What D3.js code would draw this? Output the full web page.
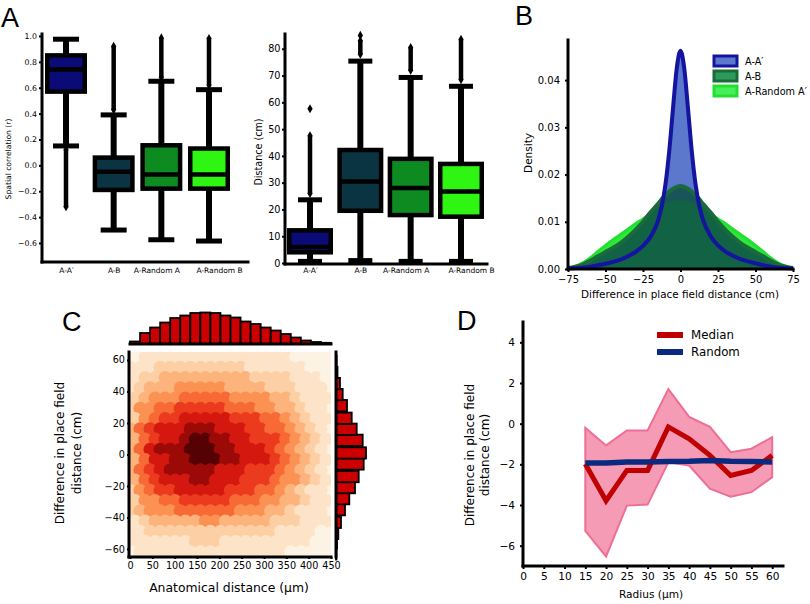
<!DOCTYPE html>
<html>
<head>
<meta charset="utf-8">
<script src="https://cdn.jsdelivr.net/npm/d3@7"></script>
<style>
  body { margin: 0; background: #fff; }
  text { font-family: "DejaVu Sans", sans-serif; fill: #000; }
  .letter { font-family: "Liberation Sans", Arial, sans-serif; font-size: 27px; }
</style>
</head>
<body>
<div id="fig"></div>
<script>
// ---------- data: panel A (box plots) ----------
const boxCats = ["A-A′", "A-B", "A-Random A", "A-Random B"];
const boxFill = ["#0b0b78", "#0a3442", "#0d8a20", "#2ef512"];
// [lower whisker, q1, median, q3, upper whisker]
const corrStats = [
  [0.15, 0.57, 0.74, 0.85, 0.975],
  [-0.50, -0.19, -0.05, 0.06, 0.39],
  [-0.575, -0.18, -0.07, 0.155, 0.65],
  [-0.585, -0.18, -0.07, 0.13, 0.585]
];
const corrFliers = [[-0.32, 0.12], [0.43, 0.92], [0.68, 0.985], [0.62, 0.98]];
const corrTicks = [-0.6, -0.4, -0.2, 0, 0.2, 0.4, 0.6, 0.8, 1.0];

const distStats = [
  [0.6, 4.0, 6.0, 12.2, 23.6],
  [0.9, 19.5, 30.4, 42.2, 75.4],
  [0.6, 17.9, 28.0, 38.9, 69.3],
  [0.6, 17.3, 26.7, 37.0, 66.0]
];
const distFliers = [[26, 47.5], [78, 83], [72, 80.5], [68.5, 83.5]];
const distOutliers = [[57.6], [85], [], []];
const distTicks = [0, 10, 20, 30, 40, 50, 60, 70, 80];

// ---------- data: panel B (densities) ----------
const kdeNames = ["A-A′", "A-B", "A-Random A′"];
const kdeX = [-75,-70,-65,-60,-55,-50,-45,-40,-35,-30,-25,-20,-15,-12.5,-10,-7.5,-5,-2.5,0,
              2.5,5,7.5,10,12.5,15,20,25,30,35,40,45,50,55,60,65,70,75];
const densAA = [0.0001,0.0002,0.0003,0.0005,0.0008,0.0011,0.0015,0.0020,0.0027,0.0036,0.0049,0.0068,0.0102,0.0133,0.0180,0.0250,0.0340,0.0425,0.0462,
                0.0425,0.0340,0.0250,0.0180,0.0134,0.0104,0.0070,0.0050,0.0037,0.0028,0.0021,0.0016,0.0012,0.0008,0.0005,0.0003,0.0002,0.0001];
const densAB = [0.0002,0.0005,0.0010,0.0018,0.0027,0.0036,0.0045,0.0055,0.0068,0.0083,0.0100,0.0120,0.0138,0.0148,0.0156,0.0164,0.0170,0.0174,0.0176,
                0.0174,0.0170,0.0164,0.0156,0.0148,0.0138,0.0120,0.0100,0.0083,0.0068,0.0055,0.0045,0.0036,0.0027,0.0018,0.0010,0.0005,0.0002];
const densRand = [0.0002,0.0006,0.0013,0.0024,0.0037,0.0050,0.0062,0.0073,0.0084,0.0096,0.0106,0.0118,0.0128,0.0132,0.0136,0.0139,0.0141,0.0143,0.0143,
                  0.0143,0.0141,0.0139,0.0136,0.0132,0.0128,0.0118,0.0106,0.0096,0.0084,0.0073,0.0062,0.0050,0.0037,0.0024,0.0013,0.0006,0.0002];

// ---------- data: panel C (hexbin + marginals) ----------
// intensity level 0-9 per hex cell, rows from top (diff ~62 cm) to bottom (~-62 cm)
const heatRows = [
  "01111111111111110000",
  "11122222222211111100",
  "12233333333322221110",
  "12333444443333222111",
  "23444555554444332111",
  "24455666665554433211",
  "24566777776665543211",
  "35677788877766554321",
  "35677899887766654321",
  "35788899988777654321",
  "35778899988777654321",
  "35678888877766654321",
  "35677788777666544321",
  "24566777776665543211",
  "24455666665554433211",
  "23444555555444332111",
  "12333334433333222111",
  "11222222222222211110",
  "11111122211111111100",
  "01111111111111110000"
];
const heatColors = ["#fdf3e4", "#fde4c8", "#fdcfa4", "#fcb37c", "#fb9254", "#f76a36",
                    "#ec3a1e", "#d41810", "#9c0a08", "#560204"];
const anatBinWidth = 22.5;
const topHist = [2.5, 11, 16.5, 21.5, 26, 28.5, 31, 31.5, 31, 28.5, 26.5, 22.5, 20, 16.5, 13.5, 10, 6.5, 3.5, 2, 1.2];
const diffBinWidth = 7.2;
const diffBinCenters = [-63, -56, -50, -43, -35, -28, -21, -14, -6, 1, 9, 16, 23, 31, 38, 45, 52, 59];
const sideHist = [0.4, 1, 2.3, 5, 9, 13.3, 19, 22.7, 27.7, 30, 26.7, 20.7, 15.7, 11, 6.7, 4, 1.5, 0.6];

// ---------- data: panel D ----------
const radius = [15, 20, 25, 30, 35, 40, 45, 50, 55, 60];
const medianDiff = [-1.98, -3.79, -2.3, -2.3, -0.16, -0.74, -1.56, -2.55, -2.3, -1.56];
const upperBand = [-0.2, -1.07, -0.33, -0.33, 1.7, 0.33, -0.16, -1.4, -1.23, -0.66];
const lowerBand = [-5.27, -6.53, -4.03, -3.98, -1.9, -2.06, -3.2, -3.59, -3.37, -2.63];
const randomDiff = [-1.94, -1.93, -1.88, -1.89, -1.86, -1.85, -1.81, -1.85, -1.86, -1.89];

// ---------- setup ----------
const svg = d3.select("#fig").append("svg").attr("width", 810).attr("height", 604);

function spine(g, x1, y1, x2, y2) {
  g.append("line").attr("x1", x1).attr("y1", y1).attr("x2", x2).attr("y2", y2)
    .attr("stroke", "#000").attr("stroke-width", 3).attr("stroke-linecap", "square");
}
function styleAxis(sel, fs) {
  sel.select(".domain").remove();
  sel.attr("font-family", null).attr("font-size", null);
  sel.selectAll(".tick line").attr("stroke", "#000").attr("stroke-width", 2);
  sel.selectAll(".tick text").attr("font-size", fs).attr("fill", "#000");
}
function vlabel(g, x, y, txt, fs) {
  g.append("text").attr("transform", `translate(${x},${y}) rotate(-90)`)
    .attr("text-anchor", "middle").attr("font-size", fs).text(txt);
}
function letter(x, y, t) {
  svg.append("text").attr("class", "letter").attr("x", x).attr("y", y).text(t);
}

// ---------- panel A ----------
const catLabelShift = [0, 0, -5, 10];
function boxPanel(x, y, stats, fliers, outliers, boxW, capW) {
  const g = svg.append("g");
  stats.forEach((s, i) => {
    const cx = x(boxCats[i]);
    const [lo, q1, med, q3, hi] = s;
    const f = fliers[i];
    g.append("line").attr("x1", cx).attr("x2", cx).attr("y1", y(f[0])).attr("y2", y(f[1]))
      .attr("stroke", "#000").attr("stroke-width", 4.5);
    f.concat(outliers[i]).forEach(v => {
      g.append("path").attr("d", d3.symbol(d3.symbolDiamond, 24)())
        .attr("transform", `translate(${cx},${y(v)})`).attr("fill", "#000");
    });
    g.append("line").attr("x1", cx).attr("x2", cx).attr("y1", y(lo)).attr("y2", y(hi))
      .attr("stroke", "#000").attr("stroke-width", 6);
    [lo, hi].forEach(v => {
      g.append("rect").attr("x", cx - capW / 2).attr("y", y(v) - 2.5)
        .attr("width", capW).attr("height", 5).attr("fill", "#000");
    });
    g.append("rect").attr("x", cx - boxW / 2).attr("y", y(q3))
      .attr("width", boxW).attr("height", y(q1) - y(q3))
      .attr("fill", boxFill[i]).attr("stroke", "#000").attr("stroke-width", 4.5);
    g.append("line").attr("x1", cx - boxW / 2).attr("x2", cx + boxW / 2)
      .attr("y1", y(med)).attr("y2", y(med)).attr("stroke", "#000").attr("stroke-width", 4.5);
  });
  return g;
}
function shiftCatLabels(sel) {
  sel.selectAll(".tick text").attr("dx", (d, i) => catLabelShift[i]);
}

// left: spatial correlation
const xA1 = d3.scalePoint().domain(boxCats).range([66, 209]);
const yA1 = d3.scaleLinear().domain([-0.747, 1.023]).range([262, 33]);
const gA1 = boxPanel(xA1, yA1, corrStats, corrFliers, [[], [], [], []], 37.5, 26);
gA1.append("g").attr("transform", "translate(42,0)")
  .call(d3.axisLeft(yA1).tickValues(corrTicks).tickFormat(d3.format(".1f")).tickSize(3).tickPadding(2))
  .call(s => styleAxis(s, 7.8));
gA1.append("g").attr("transform", "translate(0,262)")
  .call(d3.axisBottom(xA1).tickSize(0).tickPadding(5.5))
  .call(s => styleAxis(s, 7.5)).call(shiftCatLabels);
spine(gA1, 42, 34, 42, 262);
spine(gA1, 42, 262, 248, 262);
vlabel(gA1, 11, 159, "Spatial correlation (r)", 7.6);

// right: distance
const xA2 = d3.scalePoint().domain(boxCats).range([310, 461]);
const yA2 = d3.scaleLinear().domain([0, 85.9]).range([263, 33]);
const gA2 = boxPanel(xA2, yA2, distStats, distFliers, distOutliers, 41.5, 24);
gA2.append("g").attr("transform", "translate(285,0)")
  .call(d3.axisLeft(yA2).tickValues(distTicks).tickFormat(d3.format("d")).tickSize(3).tickPadding(1.5))
  .call(s => styleAxis(s, 9.7));
gA2.append("g").attr("transform", "translate(0,264)")
  .call(d3.axisBottom(xA2).tickSize(0).tickPadding(3.7))
  .call(s => styleAxis(s, 7.5)).call(shiftCatLabels);
spine(gA2, 285, 34, 285, 264);
spine(gA2, 285, 264, 487, 264);
vlabel(gA2, 262, 152, "Distance (cm)", 9.6);
letter(1, 27, "A");

// ---------- panel B ----------
const xB = d3.scaleLinear().domain([-75, 75]).range([568, 793]);
const yB = d3.scaleLinear().domain([0, 0.0485]).range([269, 40]);
const gB = svg.append("g");
const areaB = d3.area().x((d, i) => xB(kdeX[i])).y0(yB(0)).y1(d => yB(d)).curve(d3.curveMonotoneX);
const lineB = d3.line().x((d, i) => xB(kdeX[i])).y(d => yB(d)).curve(d3.curveMonotoneX);
gB.append("path").attr("d", areaB(densAA)).attr("fill", "#5b78cc");
gB.append("path").attr("d", areaB(densRand)).attr("fill", "#2ee83a");
gB.append("path").attr("d", lineB(densRand)).attr("fill", "none").attr("stroke", "#22e030").attr("stroke-width", 3);
gB.append("path").attr("d", areaB(densAB)).attr("fill", "#0f4f48").attr("fill-opacity", 0.88);
gB.append("path").attr("d", lineB(densAB)).attr("fill", "none").attr("stroke", "#1a6a3c").attr("stroke-width", 4);
gB.append("path").attr("d", lineB(densAA)).attr("fill", "none").attr("stroke", "#1414a0").attr("stroke-width", 4);
gB.append("g").attr("transform", "translate(568,0)")
  .call(d3.axisLeft(yB).tickValues([0, 0.01, 0.02, 0.03, 0.04]).tickFormat(d3.format(".2f")).tickSize(3).tickPadding(5))
  .call(s => styleAxis(s, 10));
gB.append("g").attr("transform", "translate(0,269)")
  .call(d3.axisBottom(xB).tickValues([-75, -50, -25, 0, 25, 50, 75]).tickFormat(d3.format("d")).tickSize(3).tickPadding(4))
  .call(s => styleAxis(s, 10));
spine(gB, 568, 40, 568, 269);
spine(gB, 568, 269, 793, 269);
vlabel(gB, 532, 153, "Density", 10.5);
gB.append("text").attr("x", 680).attr("y", 298).attr("text-anchor", "middle").attr("font-size", 10.4)
  .text("Difference in place field distance (cm)");
const legB = [["#5b78cc", "#1414a0"], ["#2e9a5a", "#1a6a3c"], ["#48ee58", "#22e030"]];
kdeNames.forEach((n, i) => {
  const yy = 61 + i * 15;
  gB.append("rect").attr("x", 714).attr("y", yy - 5).attr("width", 23).attr("height", 10)
    .attr("fill", legB[i][0]).attr("stroke", legB[i][1]).attr("stroke-width", 3);
  gB.append("text").attr("x", 745).attr("y", yy + 3.5).attr("font-size", 9.7).text(n);
});
letter(515, 25, "B");

// ---------- panel C ----------
const xC = d3.scaleLinear().domain([0, 450]).range([130, 331]);
const yC = d3.scaleLinear().domain([-65, 65]).range([557, 352]);
const gC = svg.append("g");
svg.append("defs").append("clipPath").attr("id", "clipC")
  .append("rect").attr("x", 130).attr("y", 352).attr("width", 201).attr("height", 205);
const heat = gC.append("g").attr("clip-path", "url(#clipC)");
heat.append("rect").attr("x", 130).attr("y", 352).attr("width", 201).attr("height", 205).attr("fill", heatColors[0]);
const rowStep = 130 / heatRows.length;
heatRows.forEach((row, j) => {
  const yv = 65 - (j + 0.5) * rowStep;
  row.split("").forEach((c, i) => {
    const xv = (i + 0.5 - (j % 2) * 0.5) * anatBinWidth;
    heat.append("circle").attr("cx", xC(xv)).attr("cy", yC(yv)).attr("r", 6.6)
      .attr("fill", heatColors[+c]);
  });
});
gC.append("g").attr("transform", "translate(129,0)")
  .call(d3.axisLeft(yC).tickValues([-60, -40, -20, 0, 20, 40, 60]).tickFormat(d3.format("d")).tickSize(2).tickPadding(2))
  .call(s => styleAxis(s, 9.7));
gC.append("g").attr("transform", "translate(0,557)")
  .call(d3.axisBottom(xC).tickValues(d3.range(0, 451, 50)).tickFormat(d3.format("d")).tickSize(2).tickPadding(3))
  .call(s => styleAxis(s, 9.7));
spine(gC, 129, 352, 129, 557);
spine(gC, 129, 557, 331, 557);

// top marginal
const hTop = d3.scaleLinear().domain([0, 32]).range([0, 32]);
topHist.forEach((v, i) => {
  gC.append("rect").attr("x", xC(i * anatBinWidth)).attr("y", 344 - hTop(v))
    .attr("width", xC(anatBinWidth) - xC(0)).attr("height", hTop(v))
    .attr("fill", "#cc0000").attr("stroke", "#000").attr("stroke-width", 1.8);
});
spine(gC, 130, 344, 331, 344);
// side marginal
sideHist.forEach((v, i) => {
  const c = diffBinCenters[i];
  gC.append("rect").attr("x", 336).attr("y", yC(c + diffBinWidth / 2))
    .attr("width", hTop(v)).attr("height", yC(c - diffBinWidth / 2) - yC(c + diffBinWidth / 2))
    .attr("fill", "#cc0000").attr("stroke", "#000").attr("stroke-width", 1.8);
});
spine(gC, 336, 352, 336, 557);

gC.append("text").attr("x", 229).attr("y", 592).attr("text-anchor", "middle").attr("font-size", 12.4)
  .text("Anatomical distance (μm)");
vlabel(gC, 64, 453, "Difference in place field", 12);
vlabel(gC, 81, 453, "distance (cm)", 12);
letter(62, 331, "C");

// ---------- panel D ----------
const xD = d3.scaleLinear().domain([0, 62.6]).range([523, 783]);
const yD = d3.scaleLinear().domain([-7, 5]).range([566, 322]);
const gD = svg.append("g");
gD.append("path")
  .attr("d", d3.area().x((d, i) => xD(radius[i])).y0((d, i) => yD(lowerBand[i])).y1(d => yD(d))(upperBand))
  .attr("fill", "#f59bb6").attr("stroke", "#ee6f96").attr("stroke-width", 2);
const lineD = d3.line().x((d, i) => xD(radius[i])).y(d => yD(d));
gD.append("path").attr("d", lineD(medianDiff)).attr("fill", "none").attr("stroke", "#c00000").attr("stroke-width", 5);
gD.append("path").attr("d", lineD(randomDiff)).attr("fill", "none").attr("stroke", "#0a2a80").attr("stroke-width", 5.5);
gD.append("g").attr("transform", "translate(523,0)")
  .call(d3.axisLeft(yD).tickValues([-6, -4, -2, 0, 2, 4]).tickFormat(d3.format("d")).tickSize(3).tickPadding(5))
  .call(s => styleAxis(s, 10.6));
gD.append("g").attr("transform", "translate(0,566)")
  .call(d3.axisBottom(xD).tickValues(d3.range(0, 61, 5)).tickFormat(d3.format("d")).tickSize(3).tickPadding(3.5))
  .call(s => styleAxis(s, 10.6));
spine(gD, 523, 322, 523, 566);
spine(gD, 523, 566, 783, 566);
gD.append("text").attr("x", 651).attr("y", 598).attr("text-anchor", "middle").attr("font-size", 10.6)
  .text("Radius (μm)");
vlabel(gD, 474, 455, "Difference in place field", 12);
vlabel(gD, 489, 455, "distance (cm)", 12);
[["Median", "#c00000"], ["Random", "#0a2a80"]].forEach(([n, col], i) => {
  const yy = 335 + i * 17;
  gD.append("rect").attr("x", 657).attr("y", yy - 3).attr("width", 26).attr("height", 6).attr("fill", col);
  gD.append("text").attr("x", 691).attr("y", yy + 4).attr("font-size", 11.8).text(n);
});
letter(457, 330, "D");
</script>
</body>
</html>
